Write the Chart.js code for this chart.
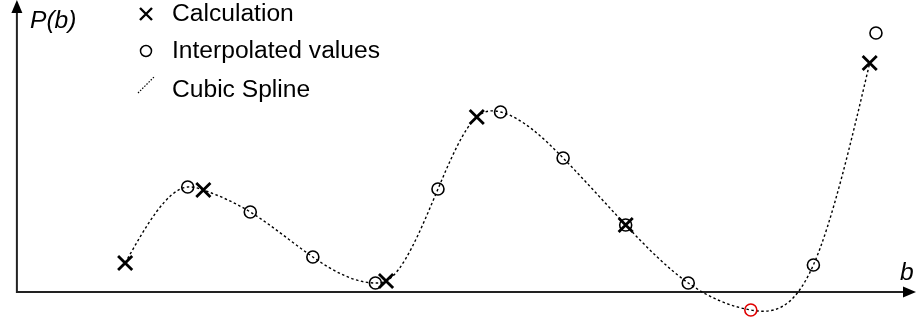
<!DOCTYPE html>
<html>
<head>
<meta charset="utf-8">
<script src="https://cdn.jsdelivr.net/npm/chart.js@4"></script>
<style>
  html, body { margin: 0; padding: 0; background: #fff; }
  #splinechart { display: block; }
</style>
</head>
<body>
<canvas id="splinechart" width="916" height="322"></canvas>
<script>
// calculated points (crosses)
var calcB = [0, 1.25, 4.17, 5.62, 8.0, 11.9];
var calcP = [0.29, 1.02, 0.11, 1.75, 0.67, 2.29];

// interpolated values (circles), one per unit step of b
var interpB = [1, 2, 3, 4, 5, 6, 7, 8, 9, 10, 11, 12];
var interpP = [1.05, 0.80, 0.35, 0.09, 1.03, 1.80, 1.34, 0.67, 0.09, -0.18, 0.27, 2.59];
var redIndex = 9;

var legendLabels = ['Calculation', 'Interpolated values', 'Cubic Spline'];
var yAxisLabel = 'P(b)';
var xAxisLabel = 'b';

function toPoints(xs, ys) {
    return xs.map(function (x, i) { return { x: x, y: ys[i] }; });
}

// spline runs through every calculated and interpolated point up to the last calculation
var lastB = calcB[calcB.length - 1];
var splinePts = toPoints(calcB, calcP).concat(toPoints(interpB, interpP).filter(function (p) {
    return p.x <= lastB;
}));
splinePts.sort(function (a, b) { return a.x - b.x; });
splinePts = splinePts.filter(function (p, i) { return i === 0 || p.x !== splinePts[i - 1].x; });

var FONT = '"Liberation Sans", Arial, sans-serif';
var STRETCH = 1.07;
var SPLINE_INDEX = 2;

function wideText(ctx, text, x, y) {
    ctx.save();
    ctx.translate(x, y);
    ctx.scale(STRETCH, 1);
    ctx.fillText(text, 0, 0);
    ctx.restore();
}

// natural cubic spline: set bezier control points on the line's point elements
function naturalSplineControls(pts) {
    var n = pts.length;
    var h = [], i;
    for (i = 0; i < n - 1; i++) h.push(pts[i + 1].x - pts[i].x);
    // solve tridiagonal system for second derivatives M (M0 = Mn-1 = 0)
    var M = new Array(n).fill(0);
    var a = [], b = [], c = [], d = [];
    for (i = 1; i < n - 1; i++) {
        a.push(h[i - 1]);
        b.push(2 * (h[i - 1] + h[i]));
        c.push(h[i]);
        d.push(6 * ((pts[i + 1].y - pts[i].y) / h[i] - (pts[i].y - pts[i - 1].y) / h[i - 1]));
    }
    var m = b.length;
    for (i = 1; i < m; i++) {
        var w = a[i] / b[i - 1];
        b[i] -= w * c[i - 1];
        d[i] -= w * d[i - 1];
    }
    var sol = new Array(m);
    sol[m - 1] = d[m - 1] / b[m - 1];
    for (i = m - 2; i >= 0; i--) sol[i] = (d[i] - c[i] * sol[i + 1]) / b[i];
    for (i = 0; i < m; i++) M[i + 1] = sol[i];

    // first derivative at each knot
    var s = [];
    for (i = 0; i < n - 1; i++) {
        s.push((pts[i + 1].y - pts[i].y) / h[i] - h[i] * (2 * M[i] + M[i + 1]) / 6);
    }
    s.push((pts[n - 1].y - pts[n - 2].y) / h[n - 2] + h[n - 2] * (M[n - 2] + 2 * M[n - 1]) / 6);

    for (i = 0; i < n; i++) {
        var p = pts[i];
        var hp = i > 0 ? h[i - 1] : 0;
        var hn = i < n - 1 ? h[i] : 0;
        p.cp1x = p.x - hp / 3;
        p.cp1y = p.y - s[i] * hp / 3;
        p.cp2x = p.x + hn / 3;
        p.cp2y = p.y + s[i] * hn / 3;
    }
}

var splinePlugin = {
    id: 'naturalSpline',
    beforeDatasetDraw: function (chart, args) {
        if (args.index !== SPLINE_INDEX) return;
        var meta = args.meta;
        naturalSplineControls(meta.data);
        meta.dataset._pointsUpdated = true;
    }
};

var axesPlugin = {
    id: 'axes',
    beforeDatasetsDraw: function (chart) {
        var ctx = chart.ctx;
        var xs = chart.scales.x, ys = chart.scales.y;
        var ox = xs.getPixelForValue(-1.73);
        var oy = ys.getPixelForValue(0);
        ctx.save();
        ctx.strokeStyle = '#222';
        ctx.fillStyle = '#000';
        ctx.lineWidth = 2;
        ctx.beginPath();
        ctx.moveTo(ox, 8);
        ctx.lineTo(ox, oy);
        ctx.lineTo(906, oy);
        ctx.stroke();
        // arrow heads
        ctx.beginPath();
        ctx.moveTo(ox, 0);
        ctx.lineTo(ox - 5.5, 13);
        ctx.lineTo(ox + 5.5, 13);
        ctx.closePath();
        ctx.fill();
        ctx.beginPath();
        ctx.moveTo(916, oy);
        ctx.lineTo(903, oy - 5.5);
        ctx.lineTo(903, oy + 5.5);
        ctx.closePath();
        ctx.fill();
        ctx.restore();
    },
    afterDraw: function (chart) {
        var ctx = chart.ctx;
        ctx.save();
        ctx.fillStyle = '#000';
        ctx.textBaseline = 'alphabetic';
        ctx.font = 'italic 23px ' + FONT;
        wideText(ctx, yAxisLabel, 30, 28);
        wideText(ctx, xAxisLabel, 900, 280);

        // legend
        ctx.font = '23px ' + FONT;
        var baselines = [21, 58, 97];
        legendLabels.forEach(function (t, i) {
            wideText(ctx, t, 172, baselines[i]);
        });
        ctx.strokeStyle = '#000';
        ctx.lineWidth = 2.4;
        ctx.beginPath();
        ctx.moveTo(140, 8); ctx.lineTo(152, 20);
        ctx.moveTo(152, 8); ctx.lineTo(140, 20);
        ctx.stroke();
        ctx.lineWidth = 1.5;
        ctx.beginPath();
        ctx.arc(146, 51, 5.5, 0, Math.PI * 2);
        ctx.stroke();
        ctx.lineWidth = 1.2;
        ctx.setLineDash([1.5, 1.5]);
        ctx.beginPath();
        ctx.moveTo(138, 93);
        ctx.lineTo(155, 76);
        ctx.stroke();
        ctx.restore();
    }
};

var interpColors = interpP.map(function (v, i) { return i === redIndex ? '#e00000' : '#000'; });

var chart = new Chart(document.getElementById('splinechart').getContext('2d'), {
    type: 'scatter',
    data: {
        datasets: [{
            label: legendLabels[0],
            data: toPoints(calcB, calcP),
            pointStyle: 'crossRot',
            pointRadius: 10,
            pointBorderWidth: 2.8,
            borderColor: '#000',
            backgroundColor: '#000',
            order: 1
        }, {
            label: legendLabels[1],
            data: toPoints(interpB, interpP),
            pointStyle: 'circle',
            pointRadius: 6,
            pointBorderWidth: 1.6,
            pointBorderColor: interpColors,
            pointBackgroundColor: 'rgba(0,0,0,0)',
            order: 2
        }, {
            label: legendLabels[2],
            data: splinePts,
            showLine: true,
            pointRadius: 0,
            borderColor: '#000',
            borderWidth: 1.4,
            borderDash: [2.5, 2.5],
            tension: 0.4,
            order: 3
        }]
    },
    options: {
        responsive: false,
        animation: false,
        layout: { padding: 0, autoPadding: false },
        scales: {
            x: { type: 'linear', min: -2, max: 12.64, display: false },
            y: { type: 'linear', min: -0.3, max: 2.92, display: false }
        },
        plugins: {
            legend: { display: false },
            tooltip: { enabled: false }
        }
    },
    plugins: [axesPlugin, splinePlugin]
});
</script>
</body>
</html>
